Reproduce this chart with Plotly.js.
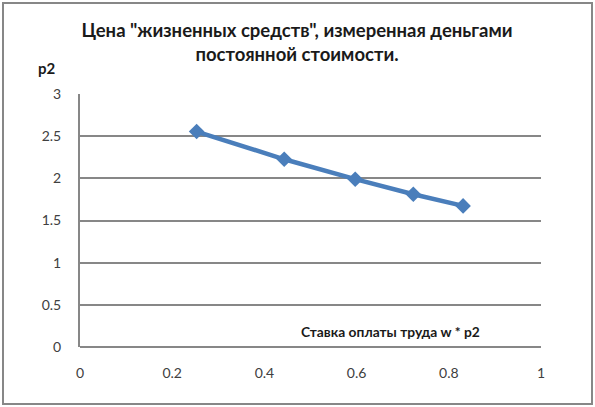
<!DOCTYPE html>
<html>
<head>
<meta charset="utf-8">
<script src="https://cdn.plot.ly/plotly-3.0.1.min.js"></script>
<style>
  body { margin: 0; background: #fff; }
  #plot { width: 595px; height: 407px; }
</style>
</head>
<body>
<div id="plot"></div>
<script>
// wage rate w * p2 and price of "means of life" p2
var wageRate = [0.253, 0.443, 0.597, 0.723, 0.831];
var priceP2 = [2.555, 2.226, 1.99, 1.811, 1.673];

var xTicks = [0, 0.2, 0.4, 0.6, 0.8, 1];
var yTicks = [0, 0.5, 1, 1.5, 2, 2.5, 3];

var gray = '#878787';

var trace = {
  x: wageRate,
  y: priceP2,
  mode: 'lines+markers',
  type: 'scatter',
  line: { color: '#4a7ebb', width: 4.5 },
  marker: { symbol: 'diamond', size: 12, color: '#4a7ebb' },
  showlegend: false,
  hoverinfo: 'skip'
};

var layout = {
  width: 595,
  height: 407,
  margin: { l: 80, r: 54, t: 94, b: 60 },
  paper_bgcolor: '#fff',
  plot_bgcolor: '#fff',
  font: { family: 'Lato, "Open Sans", sans-serif', size: 14, color: '#404040' },
  title: {
    text: '<b>Цена "жизненных средств", измеренная деньгами<br>постоянной стоимости.</b>',
    font: { family: 'Lato, sans-serif', size: 18.5, color: '#1a1a1a' },
    x: 297 / 595,
    xanchor: 'center',
    y: 1 - 37 / 407,
    yanchor: 'middle'
  },
  xaxis: {
    range: [0, 1],
    tickvals: xTicks,
    ticktext: xTicks.map(String),
    showgrid: false,
    zeroline: false,
    showline: false,
    ticks: '',
    ticklabelstandoff: 16,
    fixedrange: true
  },
  yaxis: {
    range: [0, 3],
    tickvals: yTicks,
    ticktext: yTicks.map(String),
    showgrid: true,
    gridcolor: gray,
    gridwidth: 2,
    zeroline: true,
    zerolinecolor: gray,
    zerolinewidth: 2,
    showline: true,
    linecolor: gray,
    linewidth: 2,
    ticks: '',
    ticklabelstandoff: 14,
    fixedrange: true
  },
  annotations: [
    {
      text: '<b>p2</b>',
      xref: 'paper', yref: 'paper',
      x: -0.072, y: 1.103,
      xanchor: 'center', yanchor: 'middle',
      showarrow: false,
      font: { family: 'Lato, sans-serif', size: 15, color: '#1a1a1a' }
    },
    {
      text: '<b>Ставка оплаты труда w * p2</b>',
      xref: 'paper', yref: 'y',
      x: 0.674, y: 0.18,
      xanchor: 'center', yanchor: 'middle',
      showarrow: false,
      font: { family: 'Lato, sans-serif', size: 13.8, color: '#1a1a1a' }
    }
  ],
  shapes: [
    {
      type: 'rect',
      xref: 'paper', yref: 'paper',
      x0: (3 - 80) / 461, x1: (592 - 80) / 461,
      y0: (3 - 60) / 253, y1: (404 - 60) / 253,
      line: { color: gray, width: 2 },
      layer: 'below'
    }
  ]
};

Plotly.newPlot('plot', [trace], layout, { displayModeBar: false, staticPlot: true });
</script>
</body>
</html>
